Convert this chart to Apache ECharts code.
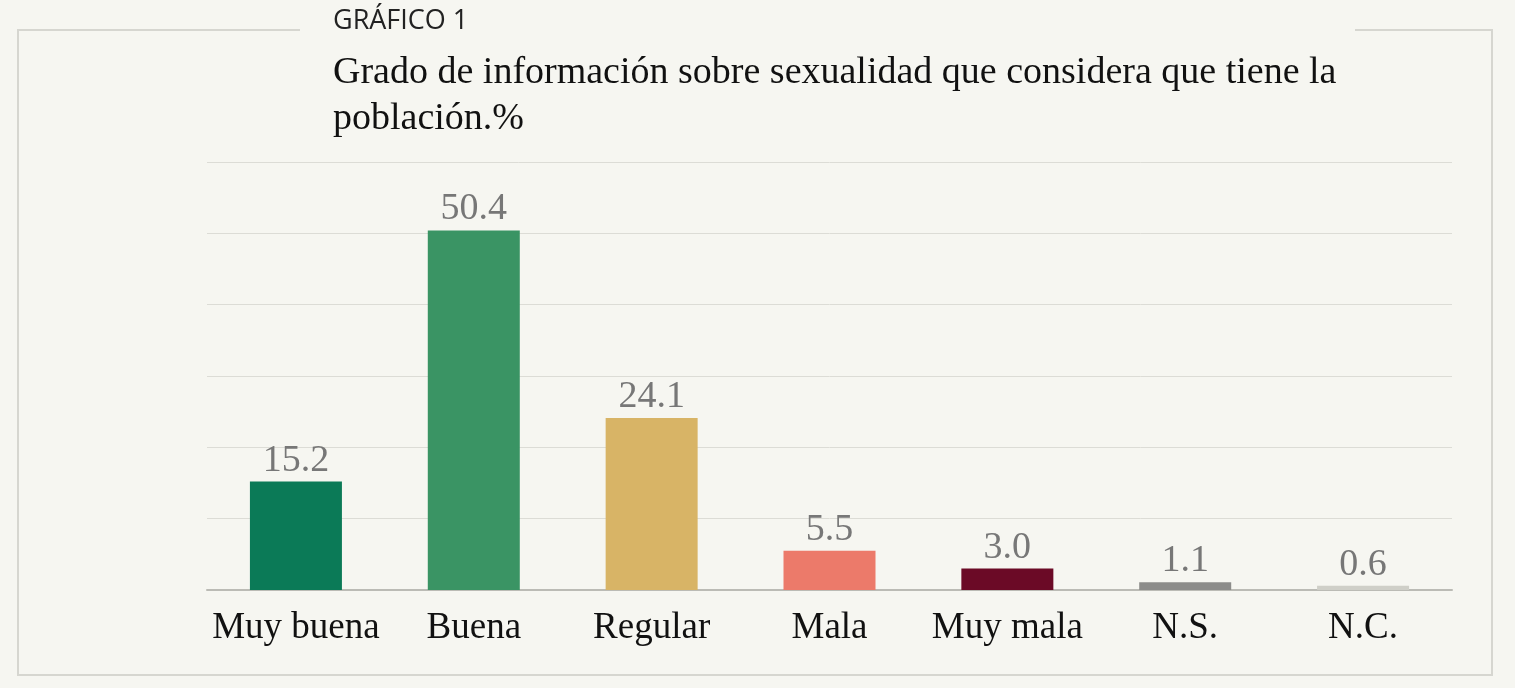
<!DOCTYPE html>
<html lang="es">
<head>
    <meta charset="UTF-8">
    <title>Gráfico 1</title>
    <style>
        html, body { margin: 0; padding: 0; background: #f6f6f1; }
        #chartContainer { width: 1515px; height: 688px; }
    </style>
    <script src="https://cdnjs.cloudflare.com/ajax/libs/echarts/6.0.0/echarts.min.js"></script>
</head>
<body>
    <div id="chartContainer"></div>
    <script>
        const categories = ['Muy buena', 'Buena', 'Regular', 'Mala', 'Muy mala', 'N.S.', 'N.C.'];
        const values = [15.2, 50.4, 24.1, 5.5, 3.0, 1.1, 0.6];
        const barColors = ['#0b7a57', '#3a9464', '#d8b466', '#ec7a6a', '#6b0a26', '#8c8c8a', '#cfcfc8'];

        var chartDom = document.getElementById('chartContainer');
        var myChart = echarts.init(chartDom);

        const frame = '#d6d6d0';

        const option = {
            backgroundColor: '#f6f6f1',
            graphic: [
                // frame around the chart, open at the top where the title sits
                { type: 'polyline', silent: true, shape: { points: [[300, 30], [18, 30], [18, 675], [1492, 675], [1492, 30], [1355, 30]] }, style: { stroke: frame, lineWidth: 2, fill: null } },
                { type: 'text', left: 333, top: 8, style: { text: 'GRÁFICO 1', font: '27px "Open Sans", sans-serif', fill: '#222' } },
                { type: 'text', left: 333, top: 50, style: { text: 'Grado de información sobre sexualidad que considera que tiene la\npoblación.%', font: '38px "Liberation Serif", serif', fill: '#111', lineHeight: 46 } }
            ],
            grid: { left: 207, right: 63, top: 162, bottom: 98 },
            xAxis: {
                type: 'category',
                data: categories,
                axisTick: { show: false },
                axisLine: { lineStyle: { color: '#bbbbb5', width: 2 } },
                axisLabel: { interval: 0, color: '#111', fontSize: 37, fontFamily: '"Liberation Serif", serif', margin: 20 }
            },
            yAxis: {
                type: 'value',
                min: 0,
                max: 60,
                interval: 10,
                axisLabel: { show: false },
                splitLine: { lineStyle: { color: '#dcdcd6', width: 1 } }
            },
            series: [{
                type: 'bar',
                barWidth: 92,
                data: values.map((v, i) => ({ value: v, itemStyle: { color: barColors[i] } })),
                label: {
                    show: true,
                    position: 'top',
                    distance: 2,
                    color: '#777',
                    fontSize: 38,
                    fontFamily: '"Liberation Serif", serif',
                    formatter: p => p.value.toFixed(1)
                }
            }]
        };

        myChart.setOption(option);
    </script>
</body>
</html>
